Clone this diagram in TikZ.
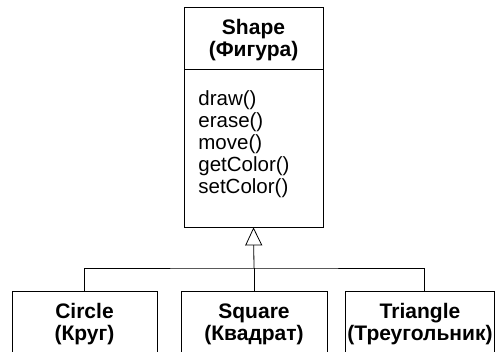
\documentclass[tikz,border=0pt]{standalone}
\usepackage{fontspec}
\setmainfont{Liberation Sans}
\usetikzlibrary{arrows.meta}
\begin{document}
\begin{tikzpicture}[x=1pt,y=1pt, line width=0.8pt,
  box/.style={draw, rectangle, inner sep=0pt},
  title/.style={font=\fontsize{21}{22}\selectfont\bfseries, align=center, inner sep=0pt},
  meth/.style={font=\fontsize{20.5}{22}\selectfont, align=left, anchor=north west, inner sep=0pt},
  gen/.style={-{Triangle[open,length=18pt,width=17pt]}}]
\useasboundingbox (0,0) rectangle (495,351);
\clip (0,0) rectangle (495,351);
% superclass
\node[box, minimum width=139pt, minimum height=220pt] (shape) at (253.5,234) {};
\coordinate (sepL) at (184,282);
\coordinate (sepR) at (323,282);
\draw (sepL) -- (sepR);
\node[title] (shapetitle) at (253.5,311) {Shape\\(Фигура)};
\node[meth] (methods) at (198,261) {draw()\\erase()\\move()\\getColor()\\setColor()};
% subclasses
\node[box, minimum width=145pt, minimum height=80pt] (circle) at (84.5,20) {};
\node[box, minimum width=146pt, minimum height=80pt] (square) at (254,20) {};
\node[box, minimum width=149pt, minimum height=80pt] (triangle) at (419.5,20) {};
\node[title] (circletitle) at (84.5,26.5) {Circle\\(Круг)};
\node[title] (squaretitle) at (254,26.5) {Square\\(Квадрат)};
\node[title] (triangletitle) at (420,26.5) {Triangle\\(Треугольник)};
% connectors
\coordinate (j) at (254,83);
\coordinate (tj) at (424,60);
\draw[gen] (j) -- (shape.south);
\draw (circle.north) |- (j) -| (tj);
\draw (j) -- (square.north);
\end{tikzpicture}
\end{document}
